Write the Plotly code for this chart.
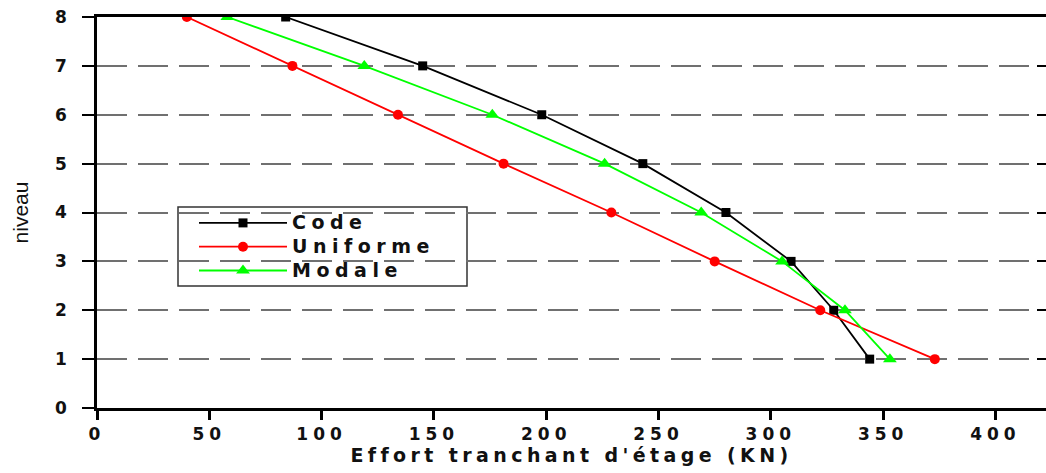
import plotly.graph_objects as go

# Storey levels and storey shear (KN) for the three load distributions
niveaux = [1, 2, 3, 4, 5, 6, 7, 8]
effort_code = [344, 328, 309, 280, 243, 198, 145, 84]
effort_uniforme = [373, 322, 275, 229, 181, 134, 87, 40]
effort_modale = [353, 333, 305, 269, 226, 176, 119, 58]

series_names = ["Code", "Uniforme", "Modale"]
x_ticks = [0, 50, 100, 150, 200, 250, 300, 350, 400]
y_ticks = [0, 1, 2, 3, 4, 5, 6, 7, 8]
x_title = "Effort tranchant d'étage (KN)"
y_title = "niveau"

SANS = "Liberation Sans, Arial, sans-serif"
WIDE = "DejaVu Sans, Verdana, sans-serif"
INK = "#111111"


def spaced(text, px, size=None, bold=False):
    """Wrap text in a span with extra letter spacing (and optional size)."""
    style = f"letter-spacing:{px}px"
    if size:
        style += f";font-size:{size}px"
    if bold:
        style += ";font-weight:bold"
    return f'<span style="{style}">{text}</span>'


fig = go.Figure()

fig.add_trace(go.Scatter(
    x=effort_code, y=niveaux, name=spaced(series_names[0], 5.5, 19, True),
    mode="lines+markers",
    line=dict(color="#000000", width=1.8),
    marker=dict(symbol="square", size=9, color="#000000"),
))
fig.add_trace(go.Scatter(
    x=effort_uniforme, y=niveaux, name=spaced(series_names[1], 5.5, 19, True),
    mode="lines+markers",
    line=dict(color="#ff0000", width=1.8),
    marker=dict(symbol="circle", size=10, color="#ff0000"),
))
fig.add_trace(go.Scatter(
    x=effort_modale, y=niveaux, name=spaced(series_names[2], 5.5, 19, True),
    mode="lines+markers",
    line=dict(color="#00ff00", width=1.8),
    marker=dict(symbol="triangle-up", size=12, color="#00ff00"),
))
# empty trace so the right-hand tick axis is drawn
fig.add_trace(go.Scatter(x=[None], y=[None], yaxis="y2", showlegend=False,
                         hoverinfo="skip"))

# legend frame (white box with a thin dark border)
L, R, T, B = 97, 1046, 17, 408
def px_x(p):
    return (p - L) / (R - L)
def px_y(p):
    return (B - p) / (B - T)

fig.add_shape(type="rect", xref="paper", yref="paper",
              x0=px_x(178), x1=px_x(467), y0=px_y(286), y1=px_y(207),
              line=dict(color="#333333", width=1.5), fillcolor="white",
              layer="between")

fig.update_layout(
    width=1046, height=473,
    margin=dict(l=L, r=1046 - R, t=T, b=473 - B),
    paper_bgcolor="white", plot_bgcolor="white",
    font=dict(family=SANS, color=INK),
    xaxis=dict(
        range=[0, 422.5], tickvals=x_ticks,
        ticktext=[spaced(str(v), 5) for v in x_ticks],
        showgrid=False, zeroline=False,
        showline=True, linecolor="#000000", linewidth=2.5, mirror=True,
        ticks="outside", ticklen=9, tickwidth=2.5, tickcolor="#000000",
        tickfont=dict(size=17, family=WIDE, color=INK, weight="bold"),
        title=dict(text=spaced(x_title, 4.4),
                   font=dict(size=19, family=WIDE, color=INK, weight="bold"),
                   standoff=5),
    ),
    yaxis=dict(
        range=[0, 8], tickvals=y_ticks,
        ticktext=[spaced(str(v), 0) for v in y_ticks],
        showgrid=True, gridcolor="#707070", gridwidth=1.5, griddash="30px,11px",
        zeroline=False,
        showline=True, linecolor="#000000", linewidth=2.5,
        ticks="outside", ticklen=12, tickwidth=1.5, tickcolor="#000000",
        ticklabelstandoff=12,
        tickfont=dict(size=17, family=WIDE, color=INK, weight="bold"),
        title=dict(text=y_title,
                   font=dict(size=21, family=SANS, color=INK),
                   standoff=21),
    ),
    yaxis2=dict(
        overlaying="y", side="right", range=[0, 8], tickvals=y_ticks,
        showgrid=False, zeroline=False, showline=False,
        ticks="inside", ticklen=9, tickwidth=2, tickcolor="#000000",
        showticklabels=False,
    ),
    legend=dict(
        x=px_x(194), y=px_y(206), xanchor="left", yanchor="top",
        bgcolor="rgba(0,0,0,0)", borderwidth=0,
        font=dict(size=16, family=WIDE, color=INK),
        itemwidth=88, tracegroupgap=0,
    ),
    showlegend=True,
)

fig.write_html("out.html")
